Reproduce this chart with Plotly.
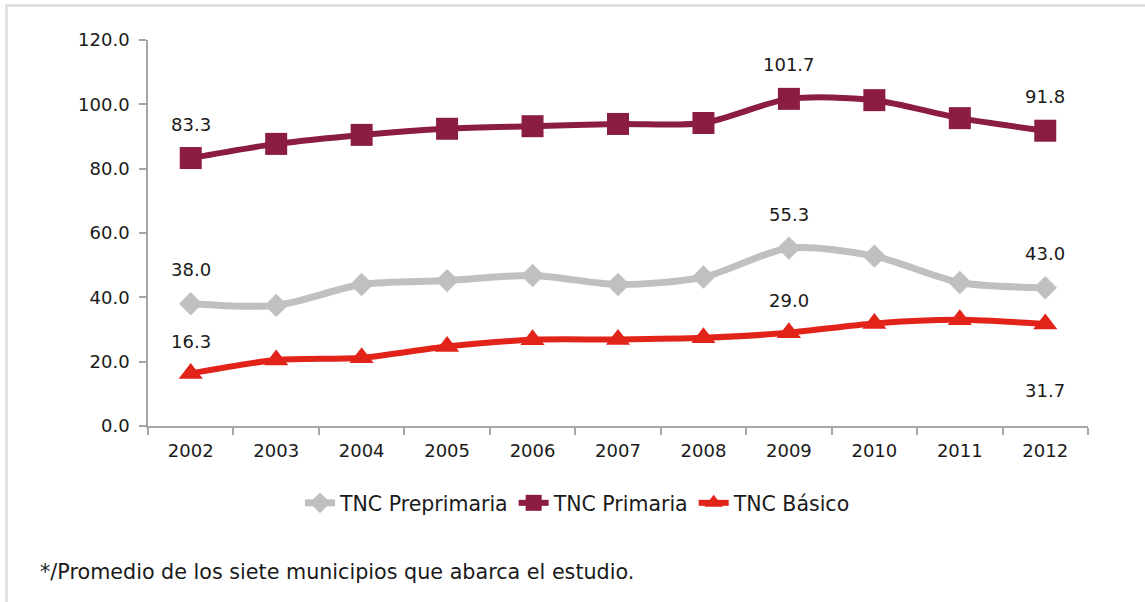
import plotly.graph_objects as go

years = ["2002", "2003", "2004", "2005", "2006", "2007", "2008", "2009", "2010", "2011", "2012"]
preprimaria = [38.0, 37.5, 44.0, 45.2, 46.8, 44.0, 46.3, 55.3, 52.8, 44.6, 43.0]
primaria = [83.3, 87.7, 90.5, 92.4, 93.2, 93.9, 94.2, 101.7, 101.3, 95.7, 91.8]
basico = [16.3, 20.5, 21.2, 24.7, 26.8, 26.9, 27.4, 29.0, 31.9, 33.0, 31.7]
y_ticks = [0, 20, 40, 60, 80, 100, 120]

FONT = "DejaVu Sans"
FS = 18
FS_LEG = 20.5
FS_NOTE = 20.7
TXT = "#1a1a1a"
AX = "#a6a6a6"

fig = go.Figure()
series = [
    ("TNC Preprimaria", preprimaria, "#bfc1c0", "diamond", 18, 7),
    ("TNC Primaria", primaria, "#8b1c42", "square", 22, 6),
    ("TNC Básico", basico, "#e2231a", "triangle-up", 21, 6),
]
for name, vals, col, sym, ms, lw in series:
    fig.add_trace(go.Scatter(
        x=years, y=vals, name=name, mode="lines+markers",
        line=dict(color=col, width=lw, shape="spline", smoothing=0.8),
        marker=dict(symbol=sym, size=ms, color=col),
        hoverinfo="skip",
    ))

# data labels: first, 2009, last point of each series
label_idx = [0, 7, 10]
shifts = {
    "TNC Preprimaria": [34, 34, 34],
    "TNC Primaria": [34, 34, 34],
    "TNC Básico": [32, 32, -66],
}
for name, vals, col, sym, ms, lw in series:
    for k, i in enumerate(label_idx):
        fig.add_annotation(
            x=i, y=vals[i], text=f"{vals[i]:.1f}", showarrow=False,
            yshift=shifts[name][k], font=dict(family=FONT, size=FS, color=TXT),
        )

fig.add_annotation(
    xref="paper", yref="paper", x=-0.117, y=-0.378, xanchor="left", yanchor="middle",
    text="*/Promedio de los siete municipios que abarca el estudio.", showarrow=False,
    font=dict(family=FONT, size=FS_NOTE, color=TXT),
)

# frame lines (left and top)
L, T, W, H = 148, 40, 940, 386
def px_x(p):
    return (p - L) / W
def px_y(p):
    return (T + H - p) / H
fig.add_shape(type="line", xref="paper", yref="paper",
              x0=px_x(6.5), x1=px_x(6.5), y0=px_y(5), y1=px_y(602),
              line=dict(color="#d9dcdc", width=2.5))
fig.add_shape(type="line", xref="paper", yref="paper",
              x0=px_x(5.5), x1=px_x(1145), y0=px_y(5.5), y1=px_y(5.5),
              line=dict(color="#d9dcdc", width=2.5))

fig.update_layout(
    width=1145, height=602,
    margin=dict(l=L, r=1145 - L - W, t=T, b=602 - T - H),
    paper_bgcolor="white", plot_bgcolor="white",
    font=dict(family=FONT, size=FS, color=TXT),
    showlegend=True,
    legend=dict(orientation="h", x=px_x(578), xanchor="center", y=px_y(503), yanchor="middle",
                font=dict(family=FONT, size=FS_LEG, color=TXT), itemwidth=30,
                tracegroupgap=0, traceorder="normal"),
    xaxis=dict(type="category", range=[-0.5, 10.5], showgrid=False, zeroline=False,
               showline=True, linecolor=AX, linewidth=1.5,
               ticks="outside", tickson="boundaries", ticklen=7, tickcolor=AX, tickwidth=1.5,
               ticklabelstandoff=8, tickfont=dict(family=FONT, size=FS, color=TXT)),
    yaxis=dict(range=[0, 120], tickvals=y_ticks, ticktext=[f"{v:.1f}" for v in y_ticks],
               showgrid=False, zeroline=False, showline=True, linecolor=AX, linewidth=1.5,
               ticks="outside", ticklen=7, tickcolor=AX, tickwidth=1.5,
               ticklabelstandoff=6, tickfont=dict(family=FONT, size=FS, color=TXT)),
)

fig.write_html("out.html", config={"displayModeBar": False},
               post_script="document.body.style.margin='0';document.body.style.overflow='hidden';")
